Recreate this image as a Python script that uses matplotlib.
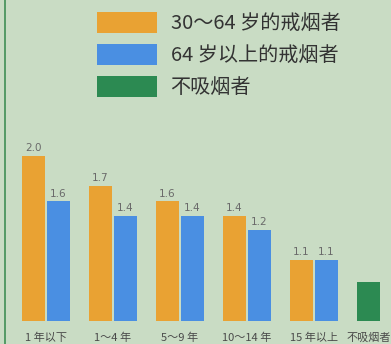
import matplotlib
matplotlib.use("Agg")
import matplotlib.pyplot as plt
import numpy as np

plt.rcParams['font.family'] = ['Noto Sans CJK SC', 'DejaVu Sans']

## data
categories = ['1 年以下', '1～4 年', '5～9 年', '10～14 年', '15 年以上']
last_category = '不吸烟者'
# bar lengths as drawn (the printed chart is not to scale)
bars_30_64 = [2.0, 1.64, 1.45, 1.27, 0.74]
bars_over_64 = [1.45, 1.27, 1.27, 1.10, 0.74]
bar_never = 0.47
# printed value labels
labels_30_64 = ['2.0', '1.7', '1.6', '1.4', '1.1']
labels_over_64 = ['1.6', '1.4', '1.4', '1.2', '1.1']
legend_names = ['30～64 岁的戒烟者', '64 岁以上的戒烟者', '不吸烟者']

c_orange = '#e9a233'
c_blue = '#4a8fe2'
c_green = '#2c8a52'
c_bg = '#c9dcc4'

W, H = 391, 344
fig = plt.figure(figsize=(W / 100, H / 100), dpi=100)
fig.patch.set_facecolor(c_bg)

base = 23  # px from the bottom
unit = 82.5  # px per unit
ax = fig.add_axes([0, base / H, 1, (H - base) / H])
ax.set_facecolor(c_bg)
ax.set_ylim(0, (H - base) / unit)
ax.set_xlim(-46 / 67, (W - 46) / 67)

w = 0.343
off = 0.187
x = np.arange(len(categories))
b1 = ax.bar(x - off, bars_30_64, w, color=c_orange)
b2 = ax.bar(x + off, bars_over_64, w, color=c_blue)
x_never = len(categories) - off
b3 = ax.bar([x_never], [bar_never], w, color=c_green)

for rects, labs in [(b1, labels_30_64), (b2, labels_over_64)]:
    for r, lab in zip(rects, labs):
        ax.annotate(lab, (r.get_x() + r.get_width() / 2, r.get_height()),
                    xytext=(0, 2), textcoords='offset points',
                    ha='center', va='bottom', fontsize=7.5, color='#6a6a6a',
                    family='DejaVu Sans')

ax.set_xticks(list(x) + [x_never])
ax.set_xticklabels(categories + [last_category], fontsize=8, color='#4a4a4a')
ax.tick_params(axis='x', length=0, pad=8.5)
ax.set_yticks([])
for s in ax.spines.values():
    s.set_visible(False)

# dark green rule on the left edge
fig.add_artist(plt.Line2D([5 / W, 5 / W], [0, 1], color='#3f8f55', lw=1.2))

leg = ax.legend([b1, b2, b3], legend_names, loc='upper left',
                bbox_to_anchor=(97 / W, 1 - 12 / H), bbox_transform=fig.transFigure,
                frameon=False, fontsize=14.5, borderpad=0, borderaxespad=0,
                handlelength=3.0, handleheight=1.25, handletextpad=0.65,
                labelspacing=0.47)
for t in leg.get_texts():
    t.set_color('#333333')

fig.savefig('out.png', dpi=100, facecolor=c_bg)
